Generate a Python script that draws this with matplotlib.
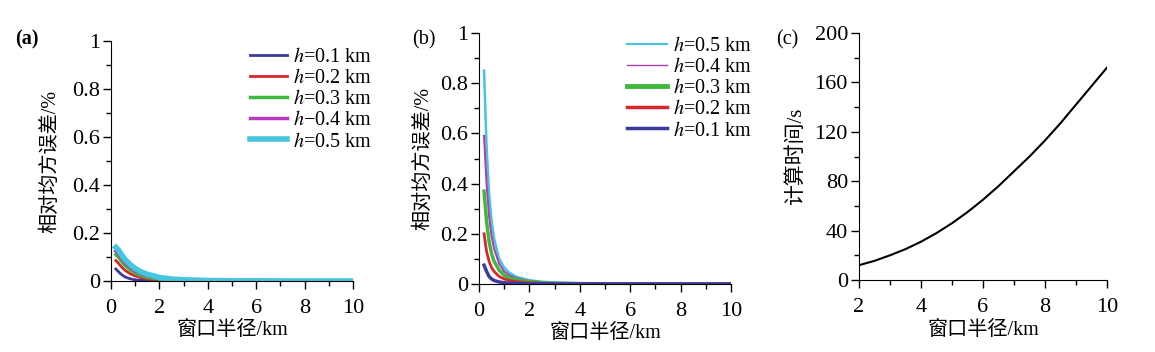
import numpy as np
import matplotlib
matplotlib.use('Agg')
import matplotlib.pyplot as plt

plt.rcParams['font.family'] = ['Liberation Serif', 'Noto Sans CJK SC']
plt.rcParams['mathtext.fontset'] = 'stix'

# window radius (km) for panels (a) and (b)
xr = [0.2, 0.3, 0.4, 0.5, 0.6, 0.8, 1.0, 1.2, 1.5, 2.0, 2.5, 3.0, 4.0, 5.0, 6.0, 8.0, 10.0]

# (a) relative mean square error (%)
a_h01 = [0.050, 0.040, 0.030, 0.022, 0.016, 0.009, 0.005, 0.003, 0.002, 0.001, 0.0005, 0.0003, 0.0002, 0.0001, 0.0001, 0.0001, 0.0001]
a_h02 = [0.085, 0.075, 0.063, 0.052, 0.043, 0.030, 0.021, 0.015, 0.009, 0.004, 0.002, 0.001, 0.0005, 0.0003, 0.0002, 0.0001, 0.0001]
a_h03 = [0.110, 0.100, 0.087, 0.074, 0.063, 0.046, 0.033, 0.024, 0.015, 0.008, 0.004, 0.002, 0.001, 0.0005, 0.0003, 0.0002, 0.0001]
a_h04 = [0.125, 0.115, 0.100, 0.087, 0.075, 0.057, 0.042, 0.032, 0.021, 0.011, 0.006, 0.003, 0.0015, 0.0008, 0.0004, 0.0002, 0.0001]
a_h05 = [0.140, 0.130, 0.115, 0.100, 0.088, 0.068, 0.052, 0.040, 0.028, 0.015, 0.008, 0.005, 0.002, 0.001, 0.0005, 0.0002, 0.0001]

# (b) relative mean square error (%)
b_h01 = [0.075, 0.050, 0.030, 0.020, 0.014, 0.008, 0.005, 0.003, 0.002, 0.001, 0.0005, 0.0003, 0.0002, 0.0001, 0.0001, 0.0001, 0.0001]
b_h02 = [0.200, 0.130, 0.090, 0.065, 0.050, 0.030, 0.020, 0.014, 0.009, 0.005, 0.003, 0.002, 0.001, 0.0005, 0.0003, 0.0002, 0.0001]
b_h03 = [0.370, 0.250, 0.170, 0.120, 0.090, 0.055, 0.035, 0.025, 0.016, 0.009, 0.005, 0.003, 0.0015, 0.0008, 0.0004, 0.0002, 0.0001]
b_h04 = [0.590, 0.400, 0.270, 0.190, 0.140, 0.080, 0.050, 0.035, 0.022, 0.012, 0.007, 0.004, 0.002, 0.001, 0.0005, 0.0002, 0.0001]
b_h05 = [0.850, 0.550, 0.360, 0.250, 0.180, 0.100, 0.065, 0.045, 0.028, 0.015, 0.009, 0.006, 0.003, 0.0015, 0.0008, 0.0003, 0.0001]

# (c) computing time (s)
xc = [2, 2.5, 3, 3.5, 4, 4.5, 5, 5.5, 6, 6.5, 7, 7.5, 8, 8.5, 9, 9.5, 10]
tc = [12, 15.5, 20, 25, 31, 38, 46, 55, 65, 76, 88, 100, 113, 127, 142, 157, 172]

c_blue = '#3b3b9e'
c_red = '#d8262a'
c_green = '#3dba3d'
c_mag = '#b53cb8'
c_cyan = '#45c6de'

xlab = '窗口半径/km'
ylab = '相对均方误差/%'
fs_tick = 16
fs_leg = 14.5
fs_xlab = 14.5
fs_ylab = 14.5

fig = plt.figure(figsize=(11.55, 3.52), dpi=100)
W, H = 1155.0, 352.0

def px_axes(x0, x1, ytop, ybot):
    return fig.add_axes([x0 / W, 1 - ybot / H, (x1 - x0) / W, (ybot - ytop) / H])

def style(ax):
    ax.spines['top'].set_visible(False)
    ax.spines['right'].set_visible(False)
    ax.tick_params(which='major', direction='out', length=6, width=1, labelsize=fs_tick)
    ax.tick_params(which='minor', direction='out', length=3.5, width=1)
    ax.tick_params(axis='x', which='major', pad=7)
    ax.tick_params(axis='y', which='major', pad=2)

axa = px_axes(111, 353, 41, 281)
axb = px_axes(479, 731, 33, 284)
axc = px_axes(859, 1107, 33, 280)

# panel (a)
la1, = axa.plot(xr, a_h01, color=c_blue, lw=2)
la2, = axa.plot(xr, a_h02, color=c_red, lw=2)
la3, = axa.plot(xr, a_h03, color=c_green, lw=2.5)
la4, = axa.plot(xr, a_h04, color=c_mag, lw=2.5)
la5, = axa.plot(xr, a_h05, color=c_cyan, lw=4)
axa.legend([la1, la2, la3, la4, la5],
           ['$h$=0.1 km', '$h$=0.2 km', '$h$=0.3 km', '$h$\u22120.4 km', '$h$=0.5 km'],
           loc='upper left', bbox_to_anchor=(250 / W, 1 - 48 / H), bbox_transform=fig.transFigure,
           frameon=False, fontsize=fs_leg, handlelength=1.85, handletextpad=0.3,
           labelspacing=0.1, borderpad=0, borderaxespad=0)

# panel (b)
lb5, = axb.plot(xr, b_h05, color=c_cyan, lw=1.8)
lb4, = axb.plot(xr, b_h04, color=c_mag, lw=1.5)
lb3, = axb.plot(xr, b_h03, color=c_green, lw=2.5)
lb2, = axb.plot(xr, b_h02, color=c_red, lw=2)
lb1, = axb.plot(xr, b_h01, color=c_blue, lw=2.5)
leg_b = axb.legend([lb5, lb4, lb3, lb2, lb1],
                   ['$h$=0.5 km', '$h$=0.4 km', '$h$=0.3 km', '$h$=0.2 km', '$h$=0.1 km'],
                   loc='upper left', bbox_to_anchor=(627 / W, 1 - 37 / H), bbox_transform=fig.transFigure,
                   frameon=False, fontsize=fs_leg, handlelength=2.0, handletextpad=0.3,
                   labelspacing=0.1, borderpad=0, borderaxespad=0)
for lh, w in zip(leg_b.get_lines(), [1.5, 1, 3.5, 2.5, 2.5]):
    lh.set_linewidth(w)

for ax in (axa, axb):
    ax.set_xlim(0, 10)
    ax.set_ylim(0, 1)
    ax.set_xticks([0, 2, 4, 6, 8, 10])
    ax.set_xticks([1, 3, 5, 7, 9], minor=True)
    ax.set_yticks([0, 0.2, 0.4, 0.6, 0.8, 1])
    ax.set_yticklabels(['0', '0.2', '0.4', '0.6', '0.8', '1'])
    ax.set_yticks([0.1, 0.3, 0.5, 0.7, 0.9], minor=True)
    ax.set_xlabel(xlab, fontsize=fs_xlab, labelpad=2)
    style(ax)
axa.set_ylabel(ylab, fontsize=fs_ylab, labelpad=8)
axb.set_ylabel(ylab, fontsize=fs_ylab, labelpad=5)

# panel (c)
axc.plot(xc, tc, color='black', lw=1.5)
axc.set_xlim(2, 10)
axc.set_ylim(0, 200)
axc.set_xticks([2, 4, 6, 8, 10])
axc.set_xticks([3, 5, 7, 9], minor=True)
axc.set_yticks([0, 40, 80, 120, 160, 200])
axc.set_yticks([20, 60, 100, 140, 180], minor=True)
axc.set_xlabel(xlab, fontsize=fs_xlab, labelpad=3)
axc.set_ylabel('计算时间/s', fontsize=15)
axc.yaxis.set_label_coords(-0.213, 0.5)
style(axc)

fig.text(15 / W, 1 - 44 / H, '(a)', fontsize=fs_leg, fontweight='bold')
fig.text(412 / W, 1 - 44 / H, '(b)', fontsize=fs_leg)
fig.text(776 / W, 1 - 44 / H, '(c)', fontsize=fs_leg)

fig.savefig('out.png', dpi=100)
